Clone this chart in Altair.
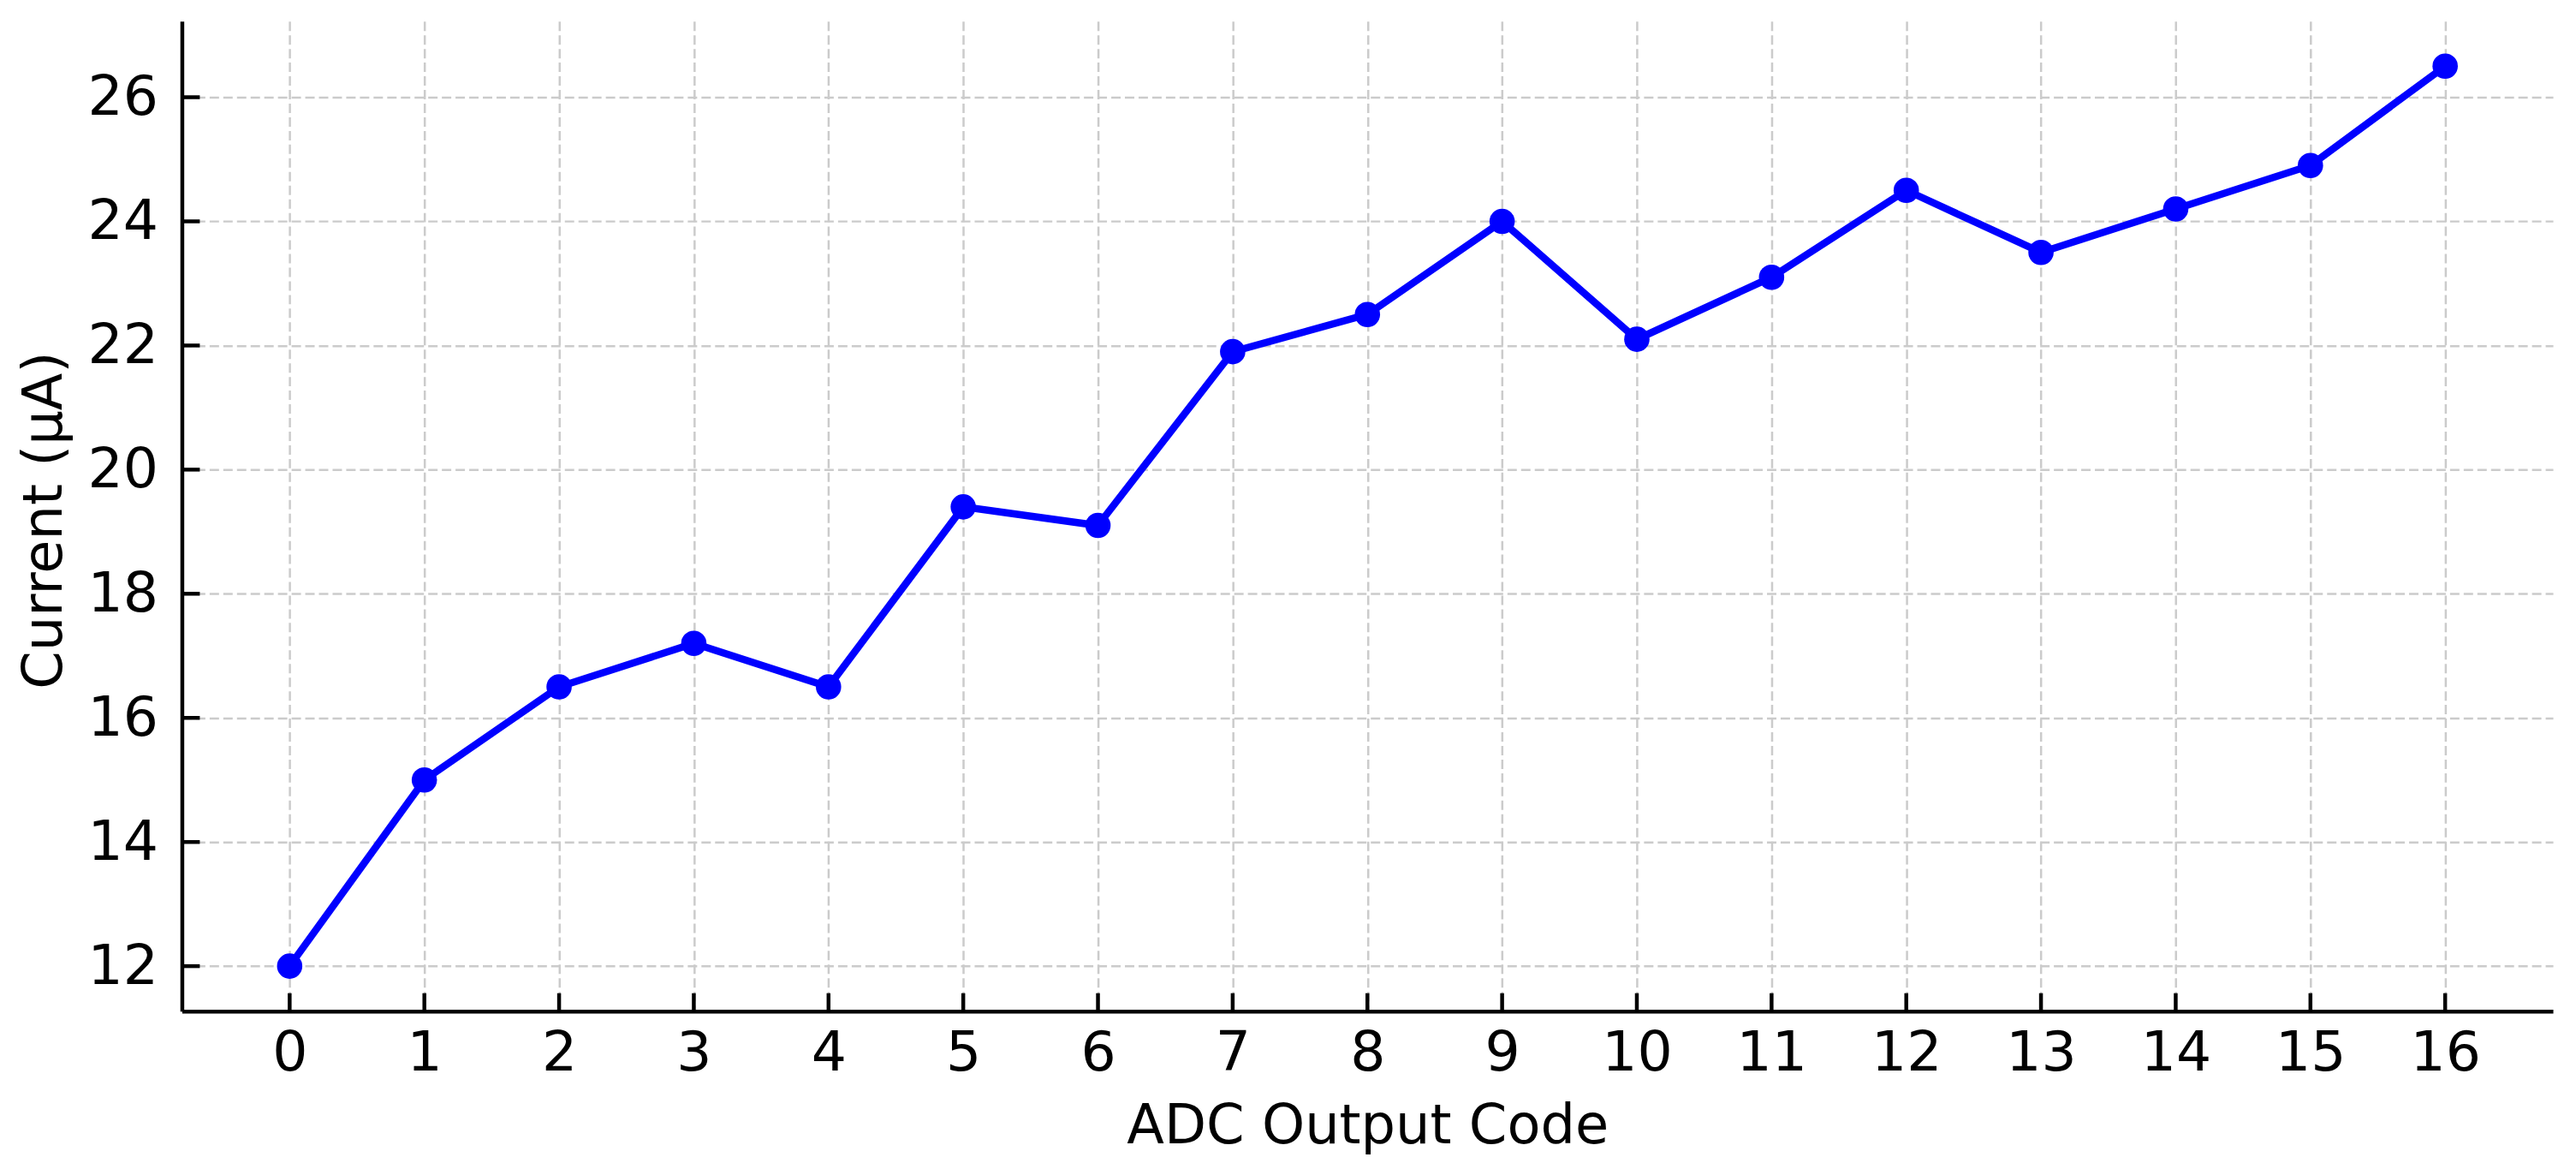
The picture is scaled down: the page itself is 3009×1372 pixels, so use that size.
import altair as alt
import pandas as pd

# Data
codes = list(range(17))
current = [12.0, 15.0, 16.5, 17.2, 16.5, 19.4, 19.1, 21.9, 22.5, 24.0,
           22.1, 23.1, 24.5, 23.5, 24.2, 24.9, 26.5]
x_ticks = list(range(17))
y_ticks = [12, 14, 16, 18, 20, 22, 24, 26]

df = pd.DataFrame({"code": codes, "current": current})
xt = pd.DataFrame({"code": x_ticks})
yt = pd.DataFrame({"current": y_ticks})

W, H = 2777, 1159
FONT = "DejaVu Sans"

xscale = alt.Scale(domain=[-0.8, 16.8], nice=False, zero=False)
yscale = alt.Scale(domain=[11.275, 27.225], nice=False, zero=False)

grid_common = dict(
    grid=True, gridColor="#cbcbcb", gridWidth=2.5, gridDash=[11, 5],
    domain=True, domainColor="black", domainWidth=4.5,
    ticks=False, tickSize=0,
    labelFont=FONT, labelFontSize=65, labelColor="black",
    titleFont=FONT, titleFontSize=64, titleColor="black", titleFontWeight="normal",
)

x_axis = alt.Axis(values=x_ticks, format="d", title="ADC Output Code",
                  labelPadding=18, titleBaseline="alphabetic",
                  titleY=154, titleX=W / 2, titleAlign="center",
                  **grid_common)
y_axis = alt.Axis(values=y_ticks, format="d", title="Current (µA)",
                  labelPadding=28, titleAngle=-90,
                  titleBaseline="alphabetic", titleAlign="center",
                  titleX=-141, titleY=584,
                  **grid_common)

line = alt.Chart(df).mark_line(
    color="#0000ff", strokeWidth=8.5,
    point=alt.OverlayMarkDef(filled=True, color="#0000ff", size=880, opacity=1),
).encode(
    x=alt.X("code:Q", scale=xscale, axis=x_axis),
    y=alt.Y("current:Q", scale=yscale, axis=y_axis),
)

xtick_layer = alt.Chart(xt).mark_rule(color="black", strokeWidth=4.5).encode(
    x=alt.X("code:Q", scale=xscale, axis=x_axis),
    y=alt.value(H), y2=alt.value(H - 21),
)
ytick_layer = alt.Chart(yt).mark_rule(color="black", strokeWidth=4.5).encode(
    y=alt.Y("current:Q", scale=yscale, axis=y_axis),
    x=alt.value(0), x2=alt.value(21),
)

chart = alt.layer(line, xtick_layer, ytick_layer).properties(
    width=W, height=H,
    padding={"left": 205, "top": 15, "right": 19, "bottom": 170},
    autosize=alt.AutoSizeParams(type="none"),
    background="white",
).configure_view(stroke=None)

chart.save("out.html", embed_options={"renderer": "svg", "actions": False})
